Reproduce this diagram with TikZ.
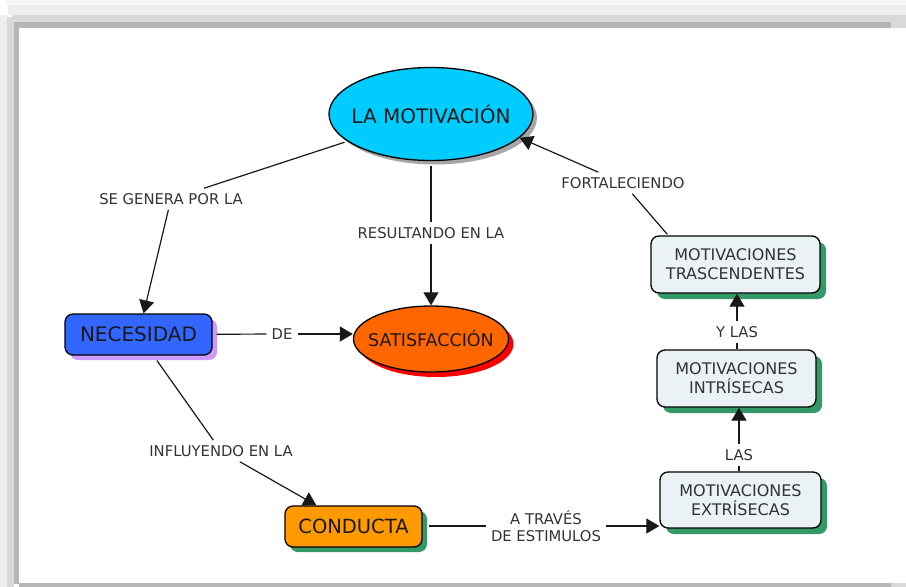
\documentclass[tikz,border=0pt]{standalone}
\usepackage{fontspec}
\setmainfont{DejaVu Sans}
\usetikzlibrary{shapes.geometric,arrows.meta,shadows,calc}
\definecolor{fra}{HTML}{F7F7F7}
\definecolor{frb}{HTML}{EEEEEE}
\definecolor{frc}{HTML}{D9D9D9}
\definecolor{frd}{HTML}{B6B6B6}
\definecolor{motc}{HTML}{00CCFF}
\definecolor{satc}{HTML}{FF6600}
\definecolor{satsh}{HTML}{FF0000}
\definecolor{necc}{HTML}{3366FF}
\definecolor{necsh}{HTML}{CC99FF}
\definecolor{conc}{HTML}{FF9900}
\definecolor{grsh}{HTML}{339966}
\definecolor{boxc}{HTML}{EBF2F5}
\definecolor{lblc}{HTML}{333333}
\tikzset{
  concept/.style={draw=black, line width=1.3pt, text=black!90, align=center, inner sep=2pt},
  ell/.style={concept, ellipse, inner sep=0pt},
  rbox/.style={concept, rectangle, rounded corners=8pt},
  lbl/.style={font=\fontsize{14.8}{17}\selectfont, text=lblc, inner sep=5pt, align=center},
  conn/.style={line width=1.2pt, black!90},
  arr/.style={conn, -{Triangle[length=13pt,width=15pt]}},
}
\begin{document}
\begin{tikzpicture}[x=1pt,y=-1pt]
\useasboundingbox (0,0) rectangle (906,587);
\fill[white] (0,0) rectangle (906,587);
% frame
\fill[fra] (6,0) rectangle (906,5);
\fill[frb] (8,5) rectangle (906,15);
\fill[frc] (12,15) rectangle (906,22);
\fill[frd] (14,22) rectangle (891,28);
\fill[frc] (891,22) rectangle (906,28);
\fill[frb] (0,15) rectangle (7,587);
\fill[frc] (7,17) rectangle (14,587);
\fill[frd] (14,22) rectangle (19,584);
\fill[frd] (19,583) rectangle (891,587);
\fill[frc] (891,583) rectangle (906,587);

% concepts
\node[ell, fill=motc, minimum width=204pt, minimum height=93pt,
      drop shadow={shadow xshift=4pt, shadow yshift=-4pt, opacity=1, fill=black!35},
      label={[font=\fontsize{20}{24}\selectfont, text=black!90]center:LA MOTIVACIÓN}] (mot) at (431,114) {};
\node[ell, fill=satc, minimum width=155pt, minimum height=66pt,
      drop shadow={shadow xshift=5pt, shadow yshift=-5pt, opacity=1, fill=satsh},
      label={[font=\fontsize{17.5}{20}\selectfont, text=black!90]center:SATISFACCIÓN}] (sat) at (431,339) {};
\node[rbox, fill=necc, minimum width=147pt, minimum height=41pt,
      drop shadow={shadow xshift=5pt, shadow yshift=-5pt, opacity=1, fill=necsh},
      font=\fontsize{20}{24}\selectfont] (nec) at (138.5,334.5) {NECESIDAD};
\node[rbox, fill=conc, minimum width=137pt, minimum height=41pt,
      drop shadow={shadow xshift=5pt, shadow yshift=-5pt, opacity=1, fill=grsh},
      font=\fontsize{19.5}{23}\selectfont] (con) at (353.5,526.5) {CONDUCTA};
\node[rbox, fill=boxc, minimum width=169pt, minimum height=57pt, text=lblc,
      drop shadow={shadow xshift=6pt, shadow yshift=-6pt, opacity=1, fill=grsh},
      font=\fontsize{16}{19}\selectfont] (tra) at (735.5,264.5) {MOTIVACIONES\\TRASCENDENTES};
\node[rbox, fill=boxc, minimum width=159pt, minimum height=57pt, text=lblc,
      drop shadow={shadow xshift=6pt, shadow yshift=-6pt, opacity=1, fill=grsh},
      font=\fontsize{16}{19}\selectfont] (int) at (736.5,378.5) {MOTIVACIONES\\INTRÍSECAS};
\node[rbox, fill=boxc, minimum width=161pt, minimum height=56pt, text=lblc,
      drop shadow={shadow xshift=6pt, shadow yshift=-6pt, opacity=1, fill=grsh},
      font=\fontsize{16}{19}\selectfont] (ext) at (740.5,500) {MOTIVACIONES\\EXTRÍSECAS};

% linking phrases
\node[lbl] (l1) at (171,199) {SE GENERA POR LA};
\node[lbl] (l2) at (431,233) {RESULTANDO EN LA};
\node[lbl] (l3) at (623,183) {FORTALECIENDO};
\node[lbl] (l4) at (282,334) {DE};
\node[lbl] (l5) at (221,451) {INFLUYENDO EN LA};
\node[lbl] (l6) at (546,526) {A TRAVÉS\\DE ESTIMULOS};
\node[lbl] (l7) at (737,332) {Y LAS};
\node[lbl] (l8) at (739,455) {LAS};

% connectors
\draw[conn, shorten <=3pt] (mot) -- (l1);
\draw[arr] (l1) -- (nec);
\draw[conn, shorten <=5pt] (mot) -- (l2);
\draw[arr] (l2) -- (sat);
\draw[conn, shorten <=4pt] (nec) -- (l4);
\draw[arr] (l4) -- (l4 -| sat.west);
\draw[conn, shorten <=6pt] (nec) -- (l5);
\draw[arr] (l5) -- (con);
\draw[conn, shorten <=6pt] (con.east |- l6) -- (l6);
\draw[arr] (l6) -- (l6 -| ext.west);
\draw[conn] (ext.north -| l8) -- (l8);
\draw[arr] (l8) -- (l8 |- int.south);
\draw[conn] (int.north -| l7) -- (l7);
\draw[arr] (l7) -- (l7 |- tra.south);
\draw[conn] ($(tra.north west)+(17,-1)$) -- (l3);
\draw[arr] (l3) -- (mot.-15);
\end{tikzpicture}
\end{document}
